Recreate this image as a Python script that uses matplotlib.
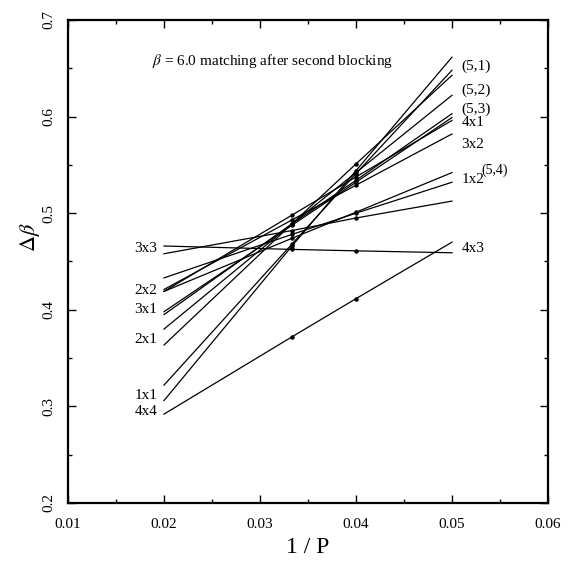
import matplotlib
matplotlib.use("Agg")
import matplotlib.pyplot as plt
from matplotlib.ticker import MultipleLocator

plt.rcParams['font.family'] = ['Liberation Serif', 'DejaVu Serif']
plt.rcParams['mathtext.fontset'] = 'stix'

# 1/P at which each matching line is evaluated (P = 50, 30, 25, 20)
inv_p = [0.02, 1 / 30, 0.04, 0.05]

# delta beta for each blocking pair, one list per line
line_a = [0.306, 0.466, 0.544, 0.6615]
line_b = [0.322, 0.468, 0.541, 0.648]
line_c = [0.3635, 0.489, 0.551, 0.6427]
line_d = [0.380, 0.489, 0.542, 0.622]
line_e = [0.395, 0.489, 0.534, 0.603]
line_f = [0.398, 0.4875, 0.532, 0.599]
line_g = [0.419, 0.498, 0.5375, 0.596]
line_h = [0.421, 0.493, 0.529, 0.582]
line_i = [0.419, 0.474, 0.501, 0.542]
line_j = [0.433, 0.478, 0.500, 0.532]
line_k = [0.458, 0.482, 0.495, 0.5125]
line_l = [0.466, 0.4625, 0.461, 0.459]
line_m = [0.292, 0.372, 0.4115, 0.470]
lines = [line_a, line_b, line_c, line_d, line_e, line_f, line_g,
         line_h, line_i, line_j, line_k, line_l, line_m]

left_labels = ['3x3', '2x2', '3x1', '2x1', '1x1', '4x4']
left_label_y = [0.4635, 0.420, 0.400, 0.369, 0.311, 0.295]
right_labels = ['(5,1)', '(5,2)', '(5,3)', '4x1', '3x2', '1x2', '4x3']
right_label_y = [0.652, 0.627, 0.608, 0.594, 0.571, 0.535, 0.4635]

xticks = [0.01, 0.02, 0.03, 0.04, 0.05, 0.06]
xtick_labels = ['0.01', '0.02', '0.03', '0.04', '0.05', '0.06']
yticks = [0.2, 0.3, 0.4, 0.5, 0.6, 0.7]
ytick_labels = ['0.2', '0.3', '0.4', '0.5', '0.6', '0.7']

fig = plt.figure(figsize=(5.8, 5.67), dpi=100)
ax = fig.add_axes([0.1172, 0.1129, 0.8276, 0.8519])

for ys in lines:
    ax.plot(inv_p, ys, color='black', lw=0.9)
    ax.plot(inv_p[1:3], ys[1:3], 'o', color='black', ms=2.2)

for lab, y in zip(left_labels, left_label_y):
    ax.text(0.0193, y, lab, ha='right', va='center', fontsize=11)
for lab, y in zip(right_labels, right_label_y):
    ax.text(0.0510, y, lab, ha='left', va='center', fontsize=11)
ax.text(0.0531, 0.544, '(5,4)', ha='left', va='center', fontsize=10)

ax.text(0.01875, 0.658, r'$\beta$ = 6.0 matching after second blocking',
        ha='left', va='center', fontsize=11)

ax.set_xlim(0.01, 0.06)
ax.set_ylim(0.2, 0.7)
ax.set_xticks(xticks)
ax.set_xticklabels(xtick_labels, fontsize=11)
ax.set_yticks(yticks)
ax.set_yticklabels(ytick_labels, fontsize=11, rotation=90, va='center')
ax.xaxis.set_minor_locator(MultipleLocator(0.005))
ax.yaxis.set_minor_locator(MultipleLocator(0.05))
ax.tick_params(which='both', direction='in', top=True, right=True, width=1)
ax.tick_params(which='major', length=6)
ax.tick_params(axis='x', which='major', pad=11)
ax.tick_params(axis='y', which='major', pad=9)
ax.tick_params(which='minor', length=3)
for s in ax.spines.values():
    s.set_linewidth(1.6)

ax.set_xlabel('1 / P', fontsize=17, labelpad=4)
ax.set_ylabel(r'$\Delta\beta$', fontsize=16, labelpad=4)
ax.yaxis.set_label_coords(-0.055, 0.55)

fig.savefig('out.png', dpi=100)
